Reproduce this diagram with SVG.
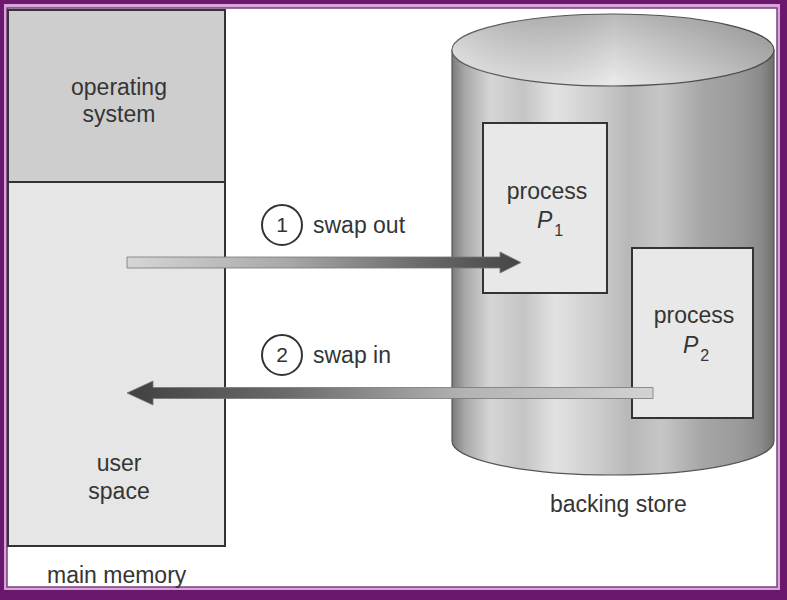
<svg xmlns="http://www.w3.org/2000/svg" width="787" height="600" viewBox="0 0 787 600">
  <style>
    .t { font-family: "Liberation Sans", Arial, sans-serif; font-size: 23px; fill: #353535; }
    .mid { text-anchor: middle; }
    .box { stroke: #333; stroke-width: 2; }
    .circ { fill: #fff; stroke: #333; stroke-width: 2; }
    .num { font-family: "Liberation Sans", Arial, sans-serif; font-size: 21px; fill: #333; text-anchor: middle; }
    .sub { font-size: 16px; font-style: normal; }
  </style>
  <defs>
    <linearGradient id="side" x1="452" y1="0" x2="774" y2="0" gradientUnits="userSpaceOnUse">
      <stop offset="0" stop-color="#7a7a7a"/>
      <stop offset="0.04" stop-color="#a8a8a8"/>
      <stop offset="0.12" stop-color="#d6d6d6"/>
      <stop offset="0.22" stop-color="#c4c4c4"/>
      <stop offset="0.32" stop-color="#e2e2e2"/>
      <stop offset="0.45" stop-color="#cdcdcd"/>
      <stop offset="0.55" stop-color="#b8b8b8"/>
      <stop offset="0.65" stop-color="#c6c6c6"/>
      <stop offset="0.78" stop-color="#a6a6a6"/>
      <stop offset="0.9" stop-color="#999"/>
      <stop offset="0.96" stop-color="#8a8a8a"/>
      <stop offset="1" stop-color="#6f6f6f"/>
    </linearGradient>
    <linearGradient id="top" x1="0" y1="0" x2="0.25" y2="1">
      <stop offset="0" stop-color="#b2b2b2"/>
      <stop offset="0.5" stop-color="#cfcfcf"/>
      <stop offset="1" stop-color="#e9e9e9"/>
    </linearGradient>
    <linearGradient id="topShade" x1="0" y1="0" x2="1" y2="0">
      <stop offset="0" stop-color="#fff" stop-opacity="0.25"/>
      <stop offset="0.5" stop-color="#000" stop-opacity="0"/>
      <stop offset="1" stop-color="#000" stop-opacity="0.25"/>
    </linearGradient>
    <linearGradient id="outG" x1="127" y1="0" x2="521" y2="0" gradientUnits="userSpaceOnUse">
      <stop offset="0" stop-color="#d6d6d6"/>
      <stop offset="0.4" stop-color="#a9a9a9"/>
      <stop offset="0.75" stop-color="#6a6a6a"/>
      <stop offset="1" stop-color="#454545"/>
    </linearGradient>
    <linearGradient id="inG" x1="127" y1="0" x2="653" y2="0" gradientUnits="userSpaceOnUse">
      <stop offset="0" stop-color="#404040"/>
      <stop offset="0.3" stop-color="#6a6a6a"/>
      <stop offset="0.65" stop-color="#b4b4b4"/>
      <stop offset="1" stop-color="#d2d2d2"/>
    </linearGradient>
  </defs>

  <g id="frame">
    <rect x="0" y="0" width="787" height="600" fill="#6b176e"/>
    <rect x="4" y="4" width="776" height="586" fill="#d6a6d8"/>
    <rect x="7" y="8" width="770" height="579" fill="#fff" stroke="#7d3d80" stroke-width="1.5"/>
  </g>

  <g id="main-memory">
    <rect id="operating-system" class="box" x="8" y="10" width="217" height="172" fill="#cecece"/>
    <rect id="user-space" class="box" x="8" y="182" width="217" height="364" fill="#e6e6e6"/>
    <text class="t mid" x="119" y="95">operating</text>
    <text class="t mid" x="119" y="122">system</text>
    <text class="t mid" x="119" y="471">user</text>
    <text class="t mid" x="119" y="499">space</text>
    <text class="t" x="47" y="583">main memory</text>
  </g>

  <g id="backing-store">
    <path d="M452,50 V441 A161,34 0 0 0 774,441 V50 Z" fill="url(#side)" stroke="#555" stroke-width="1.2"/>
    <ellipse cx="613" cy="50" rx="161" ry="36" fill="url(#top)" stroke="#555" stroke-width="1.2"/>
    <ellipse cx="613" cy="50" rx="161" ry="36" fill="url(#topShade)"/>
    <text class="t" x="550" y="512">backing store</text>
  </g>

  <g id="process-p1">
    <rect class="box" x="483" y="123" width="124" height="170" fill="#e8e8e8"/>
    <text class="t mid" x="547" y="199">process</text>
    <text class="t" x="537" y="228" font-style="italic">P<tspan class="sub" dx="2" dy="8">1</tspan></text>
  </g>

  <g id="process-p2">
    <rect class="box" x="632" y="248" width="121" height="170" fill="#e8e8e8"/>
    <text class="t mid" x="694" y="323">process</text>
    <text class="t" x="683" y="353" font-style="italic">P<tspan class="sub" dx="2" dy="8">2</tspan></text>
  </g>

  <g id="connectors">
    <g id="swap-out">
      <path d="M127,257 H500 V252 L521,262.5 L500,273 V268 H127 Z" fill="url(#outG)" stroke="#777" stroke-width="0.8"/>
      <circle class="circ" cx="282" cy="225" r="20"/>
      <text class="num" x="282" y="232">1</text>
      <text class="t" x="313" y="233">swap out</text>
    </g>
    <g id="swap-in">
      <path d="M653,387.5 H153 V381 L127,393 L153,405 V398.5 H653 Z" fill="url(#inG)" stroke="#777" stroke-width="0.8"/>
      <circle class="circ" cx="282" cy="355" r="20"/>
      <text class="num" x="282" y="362">2</text>
      <text class="t" x="313" y="363">swap in</text>
    </g>
  </g>
</svg>
